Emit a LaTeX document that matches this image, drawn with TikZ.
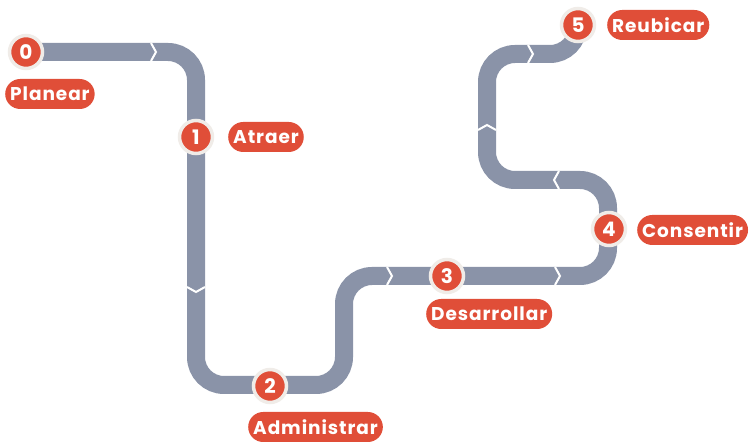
\documentclass[tikz,border=0pt]{standalone}
\usepackage{fontspec}
\setmainfont{Poppins}
\newfontfamily\etiqfont{Poppins}[LetterSpace=5]
\usetikzlibrary{backgrounds}
\definecolor{route}{RGB}{138,147,168}
\definecolor{rouge}{RGB}{224,78,56}
\definecolor{anneau}{RGB}{240,236,232}
\tikzset{
  etape/.style={circle,fill=rouge,draw=anneau,line width=3.5pt,minimum size=33pt,inner sep=0pt,text=white,font=\bfseries\fontsize{20}{20}\selectfont},
  etiq/.style={fill=rouge,rounded corners=15pt,minimum height=30pt,inner xsep=5pt,inner ysep=0pt,text=white,anchor=west,font=\etiqfont\bfseries\fontsize{18.5}{18.5}\selectfont},
  chevron/.style={white,line width=2pt}
}

\begin{document}
\begin{tikzpicture}[x=1pt,y=-1pt]
\useasboundingbox (0,0) rectangle (750,443);
% les etapes
\node[etape] (n0) at (26,52) {0};
\node[etape] (n1) at (196,137) {1};
\node[etape] (n2) at (270,386) {2};
\node[etape] (n3) at (447,276) {3};
\node[etape] (n4) at (609,229) {4};
\node[etape] (n5) at (578,25) {5};
% les etiquettes
\node[etiq] (l0) at (5,94) {Planear};
\node[etiq] (l1) at (228,137) {Atraer};
\node[etiq] (l2) at (248,427) {Administrar};
\node[etiq] (l3) at (426,314) {Desarrollar};
\node[etiq] (l4) at (637,230) {Consentir};
\node[etiq] (l5) at (607,25) {Reubicar};
% la route
\begin{scope}[on background layer]
\draw [route,line width=18pt,rounded corners=28pt] (n0.center) -- (196,52) -- (196,385) -- (344,385) -- (344,276) -- (608,276) -- (608,180) -- (487,180) -- (487,54) -- (578,54) -- (n5.center);
\foreach \x/\y/\a in {154/52/0,196/290/-90,390/276/0,558/276/0,556/180/180,487/127/90,531/54/0}
  \draw [chevron,shift={(\x,\y)},rotate=\a] (-3,-9) -- (2,0) -- (-3,9);
\end{scope}
\end{tikzpicture}
\end{document}
